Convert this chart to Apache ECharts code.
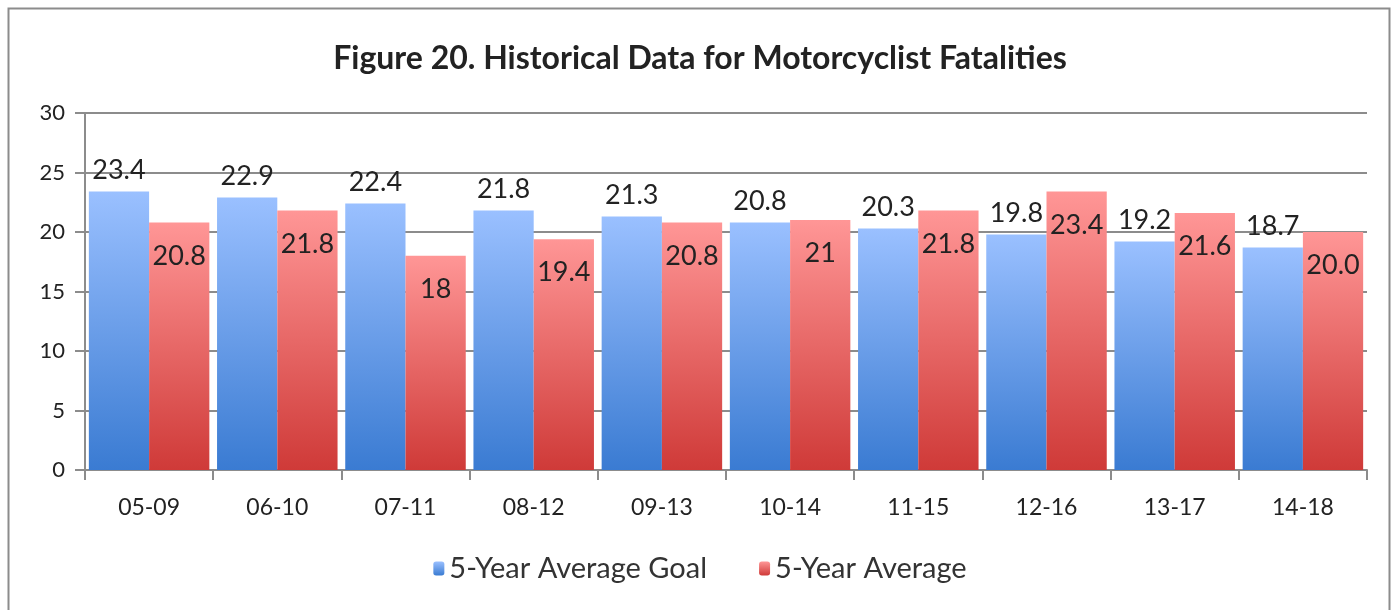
<!DOCTYPE html>
<html>
<head>
<meta charset="utf-8">
<style>
  html, body { margin: 0; padding: 0; background: #fff; }
  #chart { width: 1400px; height: 610px; }
</style>
<script src="https://cdn.jsdelivr.net/npm/echarts@6/dist/echarts.min.js"></script>
</head>
<body>
<div id="chart"></div>
<script>
const categories = ['05-09', '06-10', '07-11', '08-12', '09-13', '10-14', '11-15', '12-16', '13-17', '14-18'];
const goalValues = [23.4, 22.9, 22.4, 21.8, 21.3, 20.8, 20.3, 19.8, 19.2, 18.7];
const averageValues = [20.8, 21.8, 18, 19.4, 20.8, 21, 21.8, 23.4, 21.6, 20.0];
const averageLabels = ['20.8', '21.8', '18', '19.4', '20.8', '21', '21.8', '23.4', '21.6', '20.0'];
const seriesNames = ['5-Year Average Goal', '5-Year Average'];

const font = 'Lato, "Open Sans", sans-serif';

const chart = echarts.init(document.getElementById('chart'));

const blueFill = new echarts.graphic.LinearGradient(0, 0, 0, 1, [
    { offset: 0, color: '#9ac0ff' },
    { offset: 1, color: '#3a7bd2' }
]);
const redFill = new echarts.graphic.LinearGradient(0, 0, 0, 1, [
    { offset: 0, color: '#ff9696' },
    { offset: 1, color: '#cf3a38' }
]);

const option = {
    animation: false,
    textStyle: { fontFamily: font },
    graphic: [
        {
            type: 'rect',
            shape: { x: 8.5, y: 8.5, width: 1381, height: 610 },
            style: { fill: 'none', stroke: '#8c8c8c', lineWidth: 2 }
        }
    ],
    title: {
        text: 'Figure 20. Historical Data for Motorcyclist Fatalities',
        left: 'center',
        top: 38,
        textStyle: { fontFamily: font, fontSize: 32, fontWeight: 'bold', color: '#222' }
    },
    legend: {
        bottom: 22,
        left: 'center',
        itemWidth: 11,
        itemHeight: 14,
        itemGap: 52,
        textStyle: { fontFamily: font, fontSize: 29, color: '#333' },
        data: [
            { name: seriesNames[0], itemStyle: { color: blueFill } },
            { name: seriesNames[1], itemStyle: { color: redFill } }
        ]
    },
    grid: {
        left: 85,
        right: 33,
        top: 113,
        bottom: 140
    },
    xAxis: {
        type: 'category',
        data: categories,
        axisLine: { lineStyle: { color: '#8c8c8c', width: 2 } },
        axisTick: { show: true, length: 10, lineStyle: { color: '#8c8c8c', width: 2 } },
        axisLabel: { fontFamily: font, fontSize: 23, color: '#222', margin: 26 }
    },
    yAxis: {
        type: 'value',
        min: 0,
        max: 30,
        interval: 5,
        axisLine: { show: true, lineStyle: { color: '#8c8c8c', width: 2 } },
        axisTick: { show: true, length: 10, lineStyle: { color: '#8c8c8c', width: 2 } },
        splitLine: { show: true, lineStyle: { color: '#8c8c8c', width: 2 } },
        axisLabel: { fontFamily: font, fontSize: 22, color: '#222', margin: 20 }
    },
    series: [
        {
            name: seriesNames[0],
            type: 'bar',
            data: goalValues,
            barGap: '0%',
            barCategoryGap: '6%',
            itemStyle: { color: blueFill },
            label: {
                show: true,
                position: 'top',
                distance: 8,
                fontFamily: font,
                fontSize: 27,
                color: '#222',
                formatter: p => p.value.toFixed(1)
            }
        },
        {
            name: seriesNames[1],
            type: 'bar',
            data: averageValues,
            barGap: '0%',
            barCategoryGap: '6%',
            itemStyle: { color: redFill },
            label: {
                show: true,
                position: 'insideTop',
                distance: 20,
                fontFamily: font,
                fontSize: 27,
                color: '#222',
                formatter: p => averageLabels[p.dataIndex]
            }
        }
    ]
};

chart.setOption(option);

window.addEventListener('resize', _ => {
    chart.resize();
});
</script>
</body>
</html>
